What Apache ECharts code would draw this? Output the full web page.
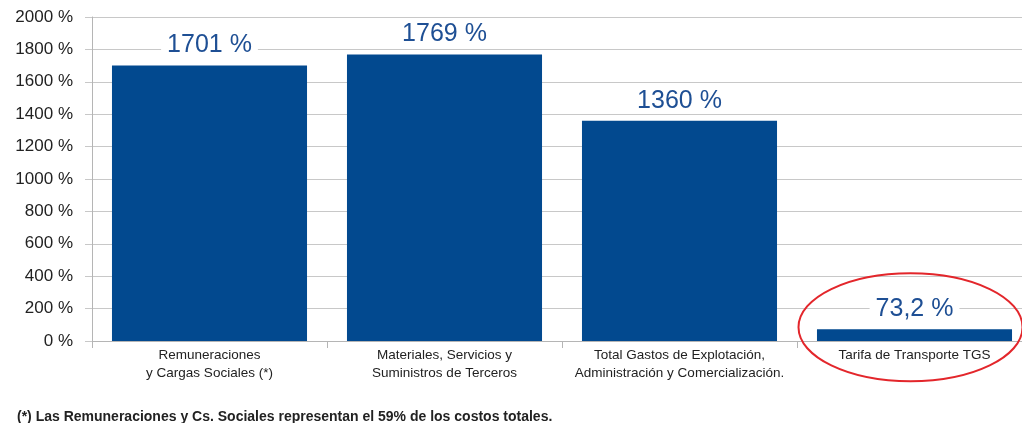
<!DOCTYPE html>
<html>
<head>
<meta charset="utf-8">
<script src="https://cdn.jsdelivr.net/npm/echarts@6/dist/echarts.min.js"></script>
<style>
  html, body { margin: 0; padding: 0; background: #fff; overflow: hidden; }
  /* el grafico original sigue un poco mas alla del borde derecho */
  #chart { width: 1032px; height: 423px; }
</style>
</head>
<body>
<div id="chart"></div>
<script>
var categories = [
    'Remuneraciones\ny Cargas Sociales (*)',
    'Materiales, Servicios y\nSuministros de Terceros',
    'Total Gastos de Explotación,\nAdministración y Comercialización.',
    'Tarifa de Transporte TGS'
];
var values = [1701, 1769, 1360, 73.2];
var yTicks = [0, 200, 400, 600, 800, 1000, 1200, 1400, 1600, 1800, 2000];
var footnote = '(*) Las Remuneraciones y Cs. Sociales representan el 59% de los costos totales.';

var font = '"Liberation Sans", Arial, Helvetica, sans-serif';
var barColor = '#02498f';
var labelColor = '#1e4f94';
var gridColor = '#c8c8c8';

var chart = echarts.init(document.getElementById('chart'), null, {renderer: 'canvas'});

var option = {
    animation: false,
    backgroundColor: '#fff',
    textStyle: { fontFamily: font },
    title: {
        text: footnote,
        left: 12,
        top: 405,
        textStyle: { fontSize: 14, fontWeight: 'bold', color: '#222', fontFamily: font }
    },
    grid: {
        left: 92,
        right: 0,
        top: 17,
        bottom: 82
    },
    xAxis: {
        type: 'category',
        data: categories,
        axisLine: { show: true, lineStyle: { color: '#b5b5b5', width: 1 } },
        axisTick: { show: true, length: 7, alignWithLabel: false, lineStyle: { color: '#b5b5b5' } },
        axisLabel: {
            interval: 0,
            margin: 5,
            fontSize: 13.5,
            lineHeight: 18,
            color: '#222',
            fontFamily: font
        }
    },
    yAxis: {
        type: 'value',
        min: yTicks[0],
        max: yTicks[yTicks.length - 1],
        interval: yTicks[1] - yTicks[0],
        axisLine: { show: true, lineStyle: { color: '#b5b5b5', width: 1 } },
        axisTick: { show: true, length: 7, lineStyle: { color: gridColor } },
        splitLine: { show: true, lineStyle: { color: gridColor, width: 1 } },
        axisLabel: {
            formatter: function (v) { return v + ' %'; },
            margin: 19,
            fontSize: 17,
            color: '#222',
            fontFamily: font
        }
    },
    series: [{
        type: 'bar',
        data: values,
        barWidth: '83%',
        itemStyle: { color: barColor },
        label: {
            show: true,
            position: 'top',
            distance: 7,
            fontSize: 25,
            lineHeight: 26,
            color: labelColor,
            fontFamily: font,
            backgroundColor: '#fff',
            padding: [0, 6],
            formatter: function (p) {
                return String(p.value).replace('.', ',') + ' %';
            }
        }
    }]
};

chart.setOption(option);

// circulo rojo alrededor de la ultima barra
var c = chart.convertToPixel({seriesIndex: 0}, [categories.length - 1, 85]);
chart.setOption({
    graphic: [{
        type: 'ellipse',
        shape: { cx: c[0] - 4, cy: c[1], rx: 112, ry: 54 },
        style: { fill: 'none', stroke: '#e3262b', lineWidth: 2 },
        z: 10
    }]
});
</script>
</body>
</html>
